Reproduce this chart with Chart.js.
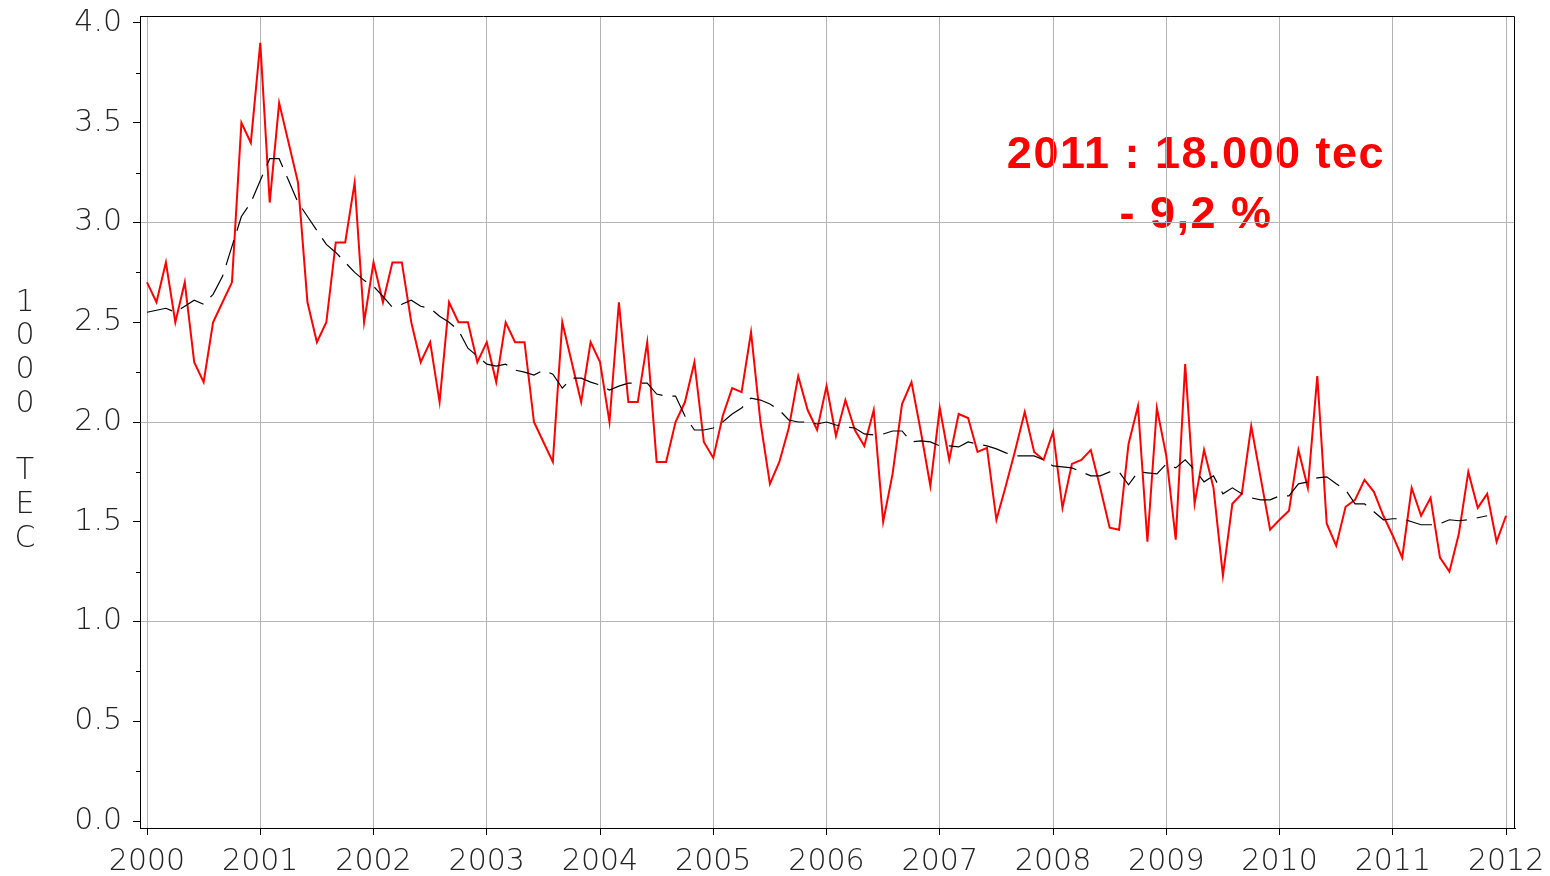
<!DOCTYPE html>
<html>
<head>
<meta charset="utf-8">
<script src="https://cdn.jsdelivr.net/npm/chart.js@4.4.1/dist/chart.umd.min.js"></script>
<style>
html, body { margin: 0; padding: 0; background: #fff; }
#wrap { width: 1550px; height: 876px; position: relative; }
</style>
</head>
<body>
<div id="wrap"><canvas id="chart" width="1550" height="876"></canvas></div>
<script>
// monthly series, Jan 2000 .. Jan 2012
const startYear = 2000
const yearTicks = [2000, 2001, 2002, 2003, 2004, 2005, 2006, 2007, 2008, 2009, 2010, 2011, 2012]
const valueTicks = [0, 0.5, 1, 1.5, 2, 2.5, 3, 3.5, 4]
const minorTicks = [0.25, 0.75, 1.25, 1.75, 2.25, 2.75, 3.25, 3.75]
const gridValues = [1, 2, 3]

const monthly = [
    2.70, 2.60, 2.80, 2.50, 2.70, 2.30, 2.20, 2.50, 2.60, 2.70, 3.50, 3.40,
    3.90, 3.10, 3.60, 3.40, 3.20, 2.60, 2.40, 2.50, 2.90, 2.90, 3.20, 2.50,
    2.80, 2.60, 2.80, 2.80, 2.50, 2.30, 2.40, 2.10, 2.60, 2.50, 2.50, 2.30,
    2.40, 2.20, 2.50, 2.40, 2.40, 2.00, 1.90, 1.80, 2.50, 2.30, 2.10, 2.40,
    2.30, 2.00, 2.60, 2.10, 2.10, 2.40, 1.80, 1.80, 2.00, 2.10, 2.30, 1.90,
    1.82, 2.03, 2.17, 2.15, 2.45, 2.00, 1.69, 1.80, 1.97, 2.23, 2.06, 1.96,
    2.18, 1.93, 2.11, 1.96, 1.88, 2.06, 1.50, 1.74, 2.09, 2.20, 1.95, 1.68,
    2.07, 1.81, 2.04, 2.02, 1.85, 1.87, 1.51, 1.68, 1.86, 2.05, 1.85, 1.81,
    1.95, 1.57, 1.79, 1.81, 1.86, 1.67, 1.47, 1.46, 1.89, 2.08, 1.40, 2.07,
    1.83, 1.41, 2.29, 1.59, 1.86, 1.67, 1.23, 1.59, 1.64, 1.98, 1.72, 1.46,
    1.51, 1.555, 1.86, 1.67, 2.23, 1.49, 1.38, 1.575, 1.61, 1.71, 1.65, 1.53,
    1.43, 1.32, 1.67, 1.53, 1.62, 1.32, 1.25, 1.44, 1.75, 1.57, 1.64, 1.40,
    1.53
]

const trend = [
    2.55, 2.56, 2.57, 2.55, 2.58, 2.61, 2.59, 2.64, 2.73, 2.88, 3.03, 3.10,
    3.21, 3.32, 3.32, 3.21, 3.10, 3.03, 2.96, 2.89, 2.85, 2.80, 2.75, 2.71,
    2.68, 2.63, 2.575, 2.59, 2.61, 2.58, 2.57, 2.53, 2.50, 2.46, 2.37, 2.33,
    2.29, 2.28, 2.29, 2.26, 2.25, 2.235, 2.26, 2.24, 2.17, 2.22, 2.22, 2.20,
    2.185, 2.16, 2.18, 2.195, 2.195, 2.195, 2.14, 2.13, 2.13, 2.03, 1.96, 1.96,
    1.97, 2.00, 2.04, 2.07, 2.12, 2.11, 2.09, 2.06, 2.01, 2.00, 2.00, 1.99,
    2.00, 1.985, 1.975, 1.97, 1.94, 1.935, 1.94, 1.955, 1.955, 1.90, 1.905, 1.90,
    1.88, 1.88, 1.875, 1.90, 1.89, 1.88, 1.865, 1.845, 1.83, 1.83, 1.83, 1.81,
    1.78, 1.775, 1.77, 1.75, 1.73, 1.73, 1.75, 1.75, 1.685, 1.75, 1.745, 1.74,
    1.79, 1.77, 1.81, 1.76, 1.70, 1.73, 1.64, 1.67, 1.64, 1.62, 1.61, 1.61,
    1.63, 1.63, 1.69, 1.70, 1.72, 1.725, 1.69, 1.66, 1.59, 1.59, 1.55, 1.51,
    1.515, 1.515, 1.50, 1.485, 1.485, 1.49, 1.51, 1.505, 1.51, 1.52, 1.53, null,
    null
]

const yTitle = ['1', '0', '0', '0', '', 'T', 'E', 'C']
const noteLines = ['2011 : 18.000 tec', '- 9,2 %']

const tickFont = { family: '"DejaVu Sans", sans-serif', size: 30, weight: '200' }
const gridGray = '#b4b4b4'

const toPoints = arr => arr.map((v, i) => ({ x: startYear + i / 12, y: v }))

const extras = {
    id: 'extras',
    beforeDraw(chart) {
        const ctx = chart.ctx
        ctx.save()
        ctx.fillStyle = '#ff0000'
        ctx.font = 'bold 45px "Liberation Sans", Arial, sans-serif'
        ctx.letterSpacing = '1.5px'
        ctx.textAlign = 'center'
        ctx.textBaseline = 'alphabetic'
        ctx.fillText(noteLines[0], 1196, 168)
        ctx.fillText(noteLines[1], 1196, 228)
        ctx.restore()
    },
    afterDraw(chart) {
        const { ctx, chartArea: a, scales } = chart
        ctx.save()
        ctx.strokeStyle = '#000'
        ctx.lineWidth = 1
        // top and right frame
        ctx.beginPath()
        ctx.moveTo(a.left, a.top + 0.5)
        ctx.lineTo(a.right - 0.5, a.top + 0.5)
        ctx.lineTo(a.right - 0.5, a.bottom)
        ctx.stroke()
        // minor ticks on the value axis
        ctx.beginPath()
        minorTicks.forEach(v => {
            const py = Math.round(scales.y.getPixelForValue(v)) + 0.5
            ctx.moveTo(a.left - 4, py)
            ctx.lineTo(a.left, py)
        })
        ctx.stroke()
        // stacked axis title
        ctx.fillStyle = '#222'
        ctx.font = '200 30px "DejaVu Sans", sans-serif'
        ctx.textAlign = 'center'
        ctx.textBaseline = 'middle'
        yTitle.forEach((ch, i) => ctx.fillText(ch, 25, 303 + i * 33.7))
        ctx.restore()
    }
}

new Chart(document.getElementById('chart'), {
    type: 'line',
    data: {
        datasets: [
            {
                data: toPoints(trend),
                borderColor: '#000',
                borderWidth: 1.2,
                borderDash: [26, 10],
                pointRadius: 0,
                tension: 0,
                order: 0
            },
            {
                data: toPoints(monthly),
                borderColor: '#ff0000',
                borderWidth: 2,
                pointRadius: 0,
                tension: 0,
                order: 1
            }
        ]
    },
    options: {
        responsive: false,
        animation: false,
        devicePixelRatio: 1,
        layout: { padding: { left: 0, right: 35, top: 16, bottom: 0 } },
        plugins: { legend: { display: false }, tooltip: { enabled: false } },
        scales: {
            x: {
                type: 'linear',
                min: 1999.938,
                max: 2012.079,
                afterBuildTicks: s => { s.ticks = yearTicks.map(v => ({ value: v })) },
                afterFit: s => { s.height = 48; s.paddingLeft = 0; s.paddingRight = 0 },
                ticks: {
                    font: tickFont,
                    color: '#222',
                    padding: 9,
                    maxRotation: 0,
                    autoSkip: false,
                    callback: v => String(v)
                },
                grid: { color: gridGray, tickColor: '#000', tickLength: 7, lineWidth: 1 },
                border: { color: '#000', width: 1 }
            },
            y: {
                type: 'linear',
                min: -0.035,
                max: 4.035,
                afterBuildTicks: s => { s.ticks = valueTicks.map(v => ({ value: v })) },
                afterFit: s => { s.width = 140; s.paddingTop = 0; s.paddingBottom = 0 },
                ticks: {
                    font: tickFont,
                    color: '#222',
                    padding: 11,
                    autoSkip: false,
                    callback: v => v.toFixed(1)
                },
                grid: {
                    color: c => gridValues.includes(c.tick && c.tick.value) ? gridGray : 'rgba(0,0,0,0)',
                    tickColor: '#000',
                    tickLength: 7,
                    lineWidth: 1
                },
                border: { color: '#000', width: 1 }
            }
        }
    },
    plugins: [extras]
})
</script>
</body>
</html>
